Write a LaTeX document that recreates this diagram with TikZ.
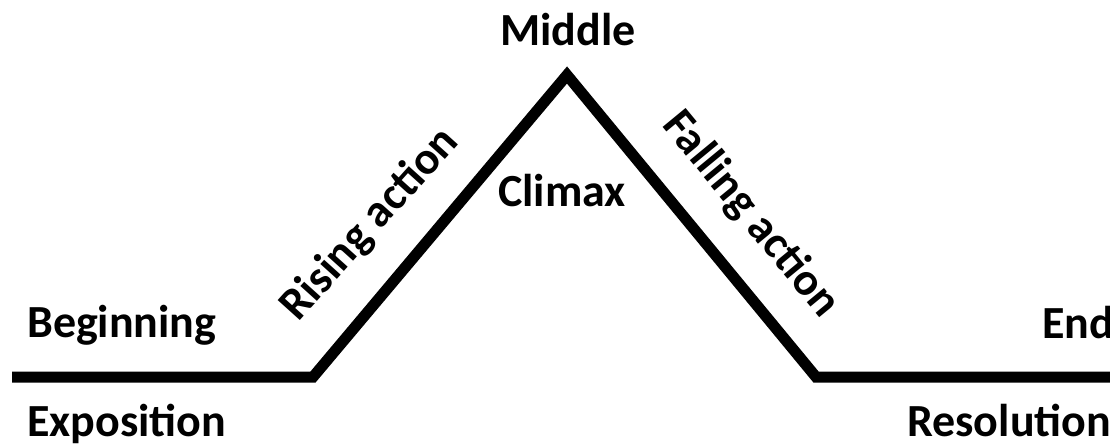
\documentclass[tikz,border=0pt]{standalone}
\usepackage{fontspec}
\setmainfont{Carlito}
\begin{document}
\begin{tikzpicture}[x=1pt,y=-1pt,
  lbl/.style={inner sep=0pt,font=\bfseries\fontsize{46}{50}\selectfont},
  arc/.style={line width=11pt,line join=miter,line cap=butt}]
\useasboundingbox (0,0) rectangle (1110,445);
\coordinate (s) at (12,377);
\coordinate (a) at (313,377);
\coordinate (p) at (567,75);
\coordinate (b) at (816,377);
\coordinate (e) at (1110,377);
\draw[arc] (s) -- (a) -- (p) -- (b) -- (e);
\node[lbl,anchor=base] (mid) at (568,45) {Middle};
\node[lbl,anchor=base] (cli) at (562,206) {Climax};
\node[lbl,anchor=base west] (beg) at (27,337) {Beginning};
\node[lbl,anchor=base west] (exp) at (27,436) {Exposition};
\node[lbl,anchor=base west] (end) at (1042,338) {End};
\node[lbl,anchor=base west] (res) at (907,436) {Resolution};
\node[lbl,anchor=base west,rotate=48] (ris) at (298,323) {Rising action};
\node[lbl,anchor=base west,rotate=-50.5] (fal) at (661,125) {Falling action};
\end{tikzpicture}
\end{document}
